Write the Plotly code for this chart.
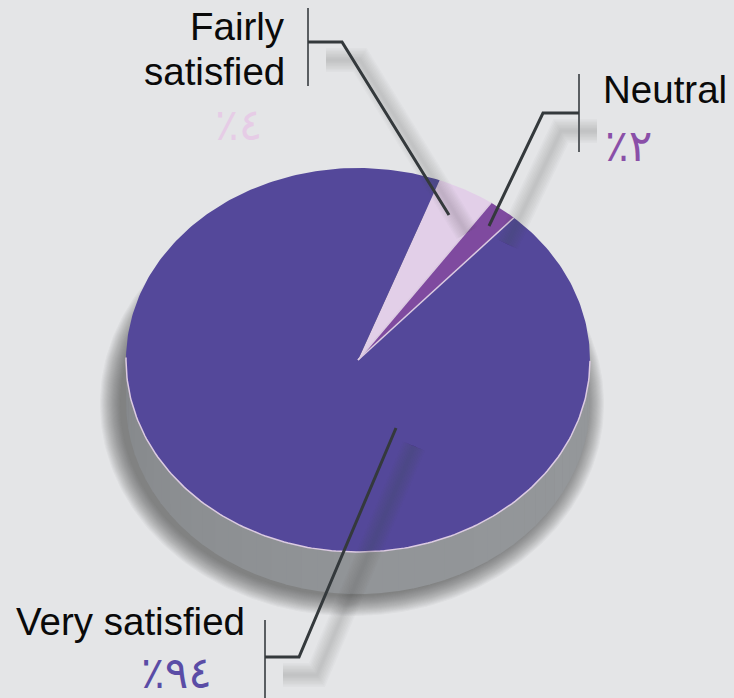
import numpy as np
import plotly.graph_objects as go

# --- data ---
categories = ["Fairly satisfied", "Neutral", "Very satisfied"]
values = [4, 2, 94]
percent_labels = ["٪٤", "٪٢", "٪٩٤"]
slice_colors = ["#E2CFE8", "#7F4A9F", "#54489A"]
percent_colors = ["#E6CCE6", "#8A4FA8", "#5A4CA6"]

# --- layout of the drawing (pixels of the 734x698 page) ---
W, H = 734, 698
CX, CY, RX, RY = 358, 360, 232, 192
DEPTH = 42
START_DEG = 20.6
BG = "#E4E5E7"


def dx(px):
    return (np.asarray(px, float) - CX) / RX


def dy(py):
    return (CY - np.asarray(py, float)) / RY


def arc(a0, a1, n=120):
    t = np.radians(np.linspace(a0, a1, n))
    return np.sin(t), np.cos(t)


fig = go.Figure()


def poly(x, y, color, line=None, width=0):
    fig.add_trace(go.Scatter(
        x=x, y=y, mode="lines", fill="toself", fillcolor=color,
        line=dict(color=line or "rgba(0,0,0,0)", width=width),
        hoverinfo="skip", showlegend=False))


def stroke(x, y, color, width):
    fig.add_trace(go.Scatter(
        x=x, y=y, mode="lines", line=dict(color=color, width=width),
        hoverinfo="skip", showlegend=False))


# soft shadow under the disc
depth_u = DEPTH / RY
sx, sy = arc(0, 360, 240)
for grow in np.linspace(20, 0, 20):
    poly((sx * (RX + grow) - 6) / RX,
         (sy * (RY + grow)) / RY - depth_u - 2 / RY,
         "rgba(72,70,70,0.042)")

# side wall, shaded by angle
side_stops_a = [90, 180, 270]
side_stops_v = [149, 146, 134]
for a0 in np.arange(90, 270, 4.0):
    a1 = a0 + 4.2
    x, y = arc(a0, a1, 6)
    v = int(np.interp(a0 + 2, side_stops_a, side_stops_v))
    poly(np.r_[x, x[::-1]], np.r_[y, y[::-1] - depth_u],
         f"rgb({v},{v + 3},{v + 6})")

# top face: slices follow the values
angle = START_DEG
spans = []
for cat, val, col in zip(categories, values, slice_colors):
    span = val / sum(values) * 360
    x, y = arc(angle, angle + span, max(12, int(span)))
    spans.append((angle, angle + span))
    poly(np.r_[0, x, 0], np.r_[0, y, 0], col)
    angle += span

# rim and separators
rx, ry = arc(0, 360, 360)
stroke(rx[90:271], ry[90:271], "#DCCBE2", 1.5)
for a in (spans[0][1], spans[1][1]):
    x, y = arc(a, a, 1)
    stroke([0, x[0]], [0, y[0]], "#DCCBE2", 1.5)

# leader lines: (vertical bar x, y0, y1), elbow path
leaders = [
    ((308, 8, 86), [(308, 42), (342, 42), (449, 215)]),
    ((579, 74, 152), [(579, 113), (543, 113), (489, 226)]),
    ((265, 620, 698), [(265, 657), (299, 657), (396, 428)]),
]
SHADOW_OFFSET = 18

for bar, path in leaders:
    px = [p[0] + SHADOW_OFFSET for p in path]
    py = [p[1] + SHADOW_OFFSET for p in path]
    for w in (24, 21, 18, 15, 12, 9, 6, 3):
        stroke(dx(px), dy(py), "rgba(70,70,75,0.028)", w)
for bar, path in leaders:
    stroke(dx([bar[0], bar[0]]), dy([bar[1], bar[2]]), "#5A5E62", 2)
    stroke(dx([p[0] for p in path]), dy([p[1] for p in path]), "#34393C", 3)

# text
ann = []


def label(text, px, py, size, color, anchor, font):
    ann.append(dict(
        text=text, x=px / W, y=1 - py / H, xref="paper", yref="paper",
        xanchor=anchor, yanchor="middle", showarrow=False,
        font=dict(size=size, color=color, family=font)))


SANS = "Liberation Sans"
AR = "DejaVu Sans"
label("Fairly", 287, 26, 38.5, "#0A0A0A", "right", SANS)
label("satisfied", 287, 71, 38.5, "#0A0A0A", "right", SANS)
label(categories[1], 601, 90, 38.5, "#0A0A0A", "left", SANS)
label(categories[2], 14, 621, 38.5, "#0A0A0A", "left", SANS)
label(percent_labels[0], 238, 125, 44, percent_colors[0], "center", AR)
label(percent_labels[1], 628, 145, 44, percent_colors[1], "center", AR)
label(percent_labels[2], 176, 672, 44, percent_colors[2], "center", AR)

fig.update_layout(
    width=W, height=H, autosize=False, showlegend=False,
    margin=dict(l=0, r=0, t=0, b=0),
    paper_bgcolor=BG, plot_bgcolor=BG, annotations=ann,
    xaxis=dict(range=[float(dx(0)), float(dx(W))], visible=False, fixedrange=True),
    yaxis=dict(range=[float(dy(H)), float(dy(0))], visible=False, fixedrange=True),
)
fig.write_html(
    "out.html",
    config={"displayModeBar": False},
    post_script="document.body.style.margin='0';document.documentElement.style.overflow='hidden';",
)
